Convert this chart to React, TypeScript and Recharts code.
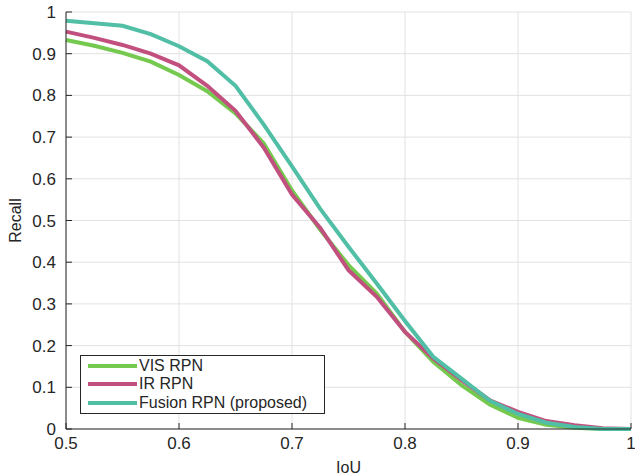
import React from 'react';
import { LineChart, Line, XAxis, YAxis, CartesianGrid, Label } from 'recharts';

const iou = [0.5, 0.525, 0.55, 0.575, 0.6, 0.625, 0.65, 0.675, 0.7, 0.725, 0.75, 0.775, 0.8, 0.825, 0.85, 0.875, 0.9, 0.925, 0.95, 0.975, 1.0];
const visRpn = [0.933, 0.919, 0.902, 0.881, 0.849, 0.81, 0.757, 0.685, 0.572, 0.478, 0.393, 0.325, 0.233, 0.161, 0.105, 0.059, 0.027, 0.01, 0.003, 0.0, 0.0];
const irRpn = [0.953, 0.938, 0.921, 0.9, 0.872, 0.823, 0.763, 0.675, 0.562, 0.482, 0.381, 0.317, 0.233, 0.169, 0.117, 0.069, 0.041, 0.019, 0.009, 0.002, 0.0];
const fusionRpn = [0.979, 0.973, 0.967, 0.947, 0.918, 0.882, 0.823, 0.73, 0.63, 0.528, 0.437, 0.349, 0.259, 0.173, 0.121, 0.068, 0.036, 0.015, 0.005, 0.0, 0.0];

const xTicks = [0.5, 0.6, 0.7, 0.8, 0.9, 1];
const yTicks = [0, 0.1, 0.2, 0.3, 0.4, 0.5, 0.6, 0.7, 0.8, 0.9, 1];

const seriesNames = ['VIS RPN', 'IR RPN', 'Fusion RPN (proposed)'];
const seriesColors = ['#74C94E', '#C1507F', '#50BFA6'];

const data = iou.map((x, i) => ({ iou: x, vis: visRpn[i], ir: irRpn[i], fusion: fusionRpn[i] }));

const AXIS = '#262626';
const FONT = 'Liberation Sans, Arial, Helvetica, sans-serif';

const fmt = (v: number) => (Math.abs(v - Math.round(v)) < 1e-9 ? String(Math.round(v)) : String(Math.round(v * 10) / 10));

const XTick = (props: any) => {
  const { x, y, payload } = props;
  return (
    <g>
      <line x1={x} x2={x} y1={y} y2={y - 6} stroke={AXIS} strokeWidth={1} />
      <text x={x} y={y + 20} textAnchor="middle" fontSize={17} fill={AXIS} fontFamily={FONT}>
        {fmt(payload.value)}
      </text>
    </g>
  );
};

const YTick = (props: any) => {
  const { x, y, payload } = props;
  return (
    <g>
      <line x1={x} x2={x + 6} y1={y} y2={y} stroke={AXIS} strokeWidth={1} />
      <text x={x - 10} y={y + 6} textAnchor="end" fontSize={17} fill={AXIS} fontFamily={FONT}>
        {fmt(payload.value)}
      </text>
    </g>
  );
};

const LegendBox = () => (
  <div
    style={{
      position: 'absolute',
      left: 80,
      top: 355,
      border: '1px solid #262626',
      background: '#fff',
      width: 245,
      height: 59,
      boxSizing: 'border-box',
      padding: '1px 0 0 7px',
      fontFamily: FONT,
      fontSize: 16,
      color: AXIS,
    }}
  >
    {seriesNames.map((n, i) => (
      <div key={n} style={{ display: 'flex', alignItems: 'center', height: 18.3, lineHeight: '18px', whiteSpace: 'nowrap' }}>
        <span style={{ display: 'inline-block', width: 49, height: 4, background: seriesColors[i], marginRight: 2 }} />
        <span>{n}</span>
      </div>
    ))}
  </div>
);

export default function App() {
  return (
    <div style={{ position: 'absolute', left: 0, top: 0, width: 635, height: 475, background: '#fff' }}>
      <style>{'body{margin:0;background:#fff}'}</style>
      <LineChart width={635} height={475} data={data} margin={{ top: 12, right: 4, bottom: 0, left: 0 }}>
        <CartesianGrid stroke="#e2e2e2" strokeWidth={1} />
        <XAxis
          dataKey="iou"
          type="number"
          domain={[0.5, 1]}
          ticks={xTicks}
          interval={0}
          height={46}
          axisLine={{ stroke: AXIS, strokeWidth: 1 }}
          tickLine={false}
          tickSize={0}
          tickMargin={0}
          tick={<XTick />}
        >
          <Label value="IoU" position="insideBottom" offset={0} dy={-2} fontSize={16} fill={AXIS} fontFamily={FONT} />
        </XAxis>
        <YAxis
          type="number"
          domain={[0, 1]}
          ticks={yTicks}
          interval={0}
          width={66}
          axisLine={{ stroke: AXIS, strokeWidth: 1 }}
          tickLine={false}
          tickSize={0}
          tickMargin={0}
          tick={<YTick />}
        >
          <Label value="Recall" angle={-90} position="insideLeft" offset={15} fontSize={16} fill={AXIS} fontFamily={FONT} style={{ textAnchor: 'middle' }} />
        </YAxis>
        <Line type="linear" dataKey="vis" name={seriesNames[0]} stroke={seriesColors[0]} strokeWidth={4} dot={false} isAnimationActive={false} />
        <Line type="linear" dataKey="ir" name={seriesNames[1]} stroke={seriesColors[1]} strokeWidth={4} dot={false} isAnimationActive={false} />
        <Line type="linear" dataKey="fusion" name={seriesNames[2]} stroke={seriesColors[2]} strokeWidth={4} dot={false} isAnimationActive={false} />
      </LineChart>
      <LegendBox />
    </div>
  );
}
